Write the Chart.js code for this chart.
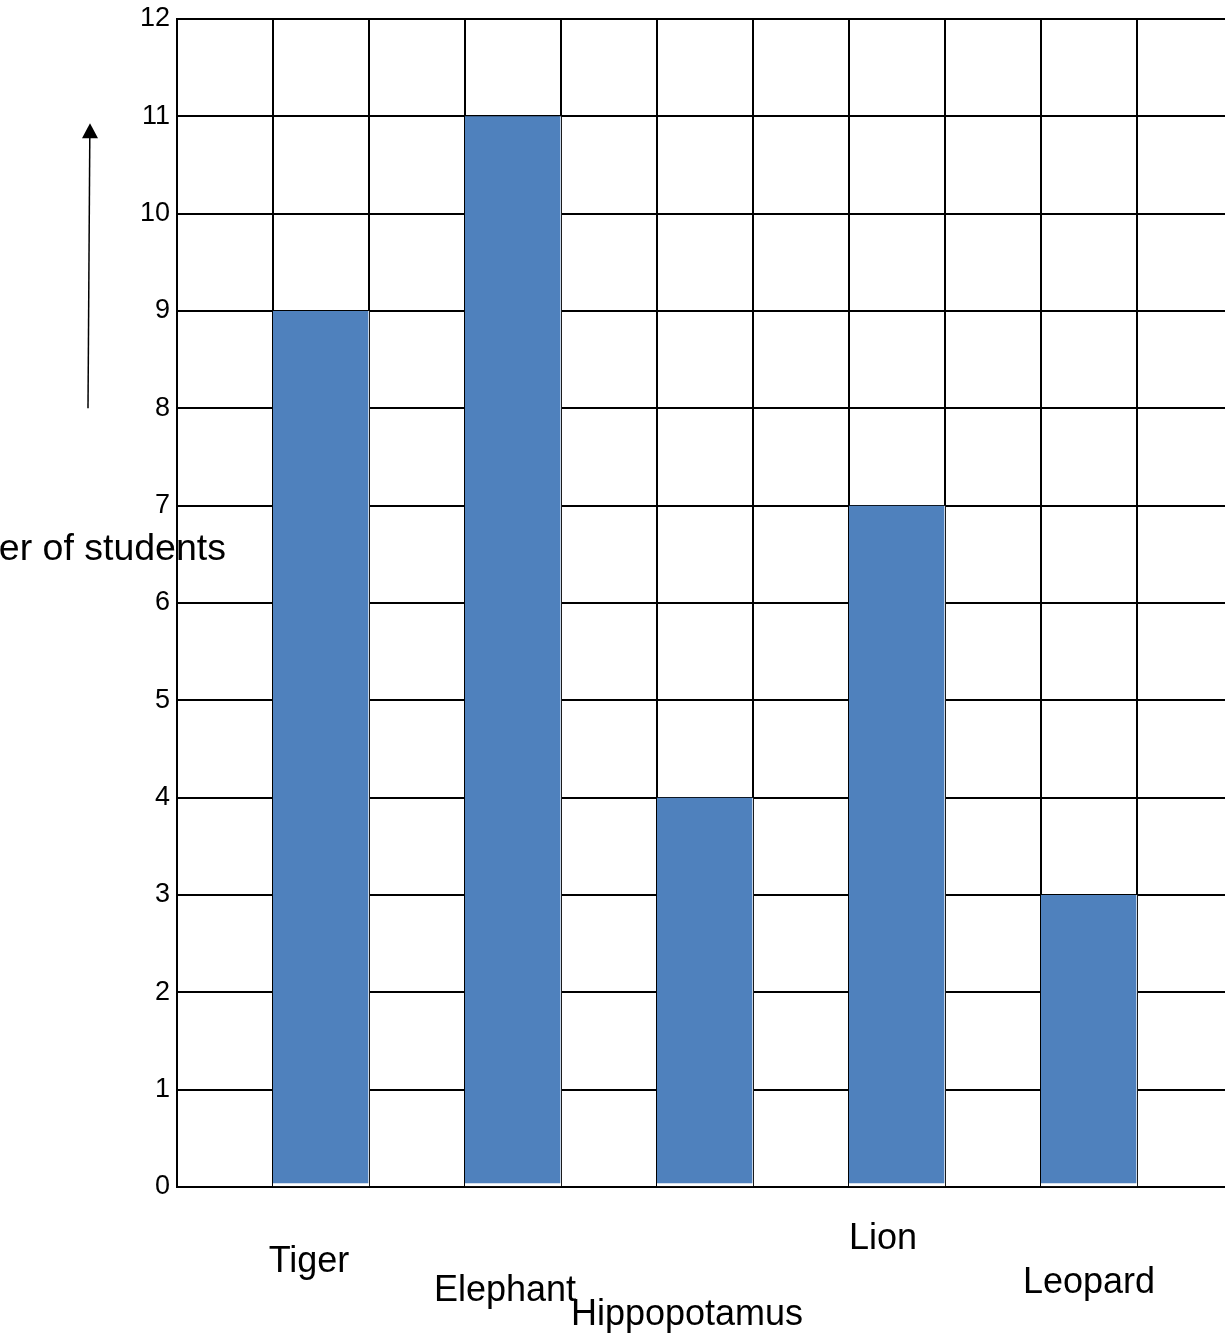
<!DOCTYPE html>
<html>
<head>
<meta charset="utf-8">
<script src="https://cdn.jsdelivr.net/npm/chart.js@4.4.1/dist/chart.umd.min.js"></script>
<style>
  html, body { margin: 0; padding: 0; background: #fff; overflow: hidden; }
  #wrap { width: 1234px; height: 1338px; }
</style>
</head>
<body>
<div id="wrap"><canvas id="myChart" width="1234" height="1338"></canvas></div>
<script>
// data
var animals = ['Tiger', 'Elephant', 'Hippopotamus', 'Lion', 'Leopard'];
var students = [9, 11, 4, 7, 3];
var yTicks = [0, 1, 2, 3, 4, 5, 6, 7, 8, 9, 10, 11, 12];

// every animal sits in every second column, with empty columns between
var slotLabels = [''];
var slotValues = [null];
animals.forEach(function(a, i) {
  slotLabels.push(a, '');
  slotValues.push(students[i], null);
});

// staggered label placement under the axis: [dx from column centre, baseline below axis]
var labelShift = [[-12, 85], [-8, 114], [-18, 138], [-14, 62], [0, 106]];

var FONT = '"Liberation Sans", Arial, sans-serif';

var annotate = {
  id: 'annotate',
  afterDraw: function(chart) {
    var ctx = chart.ctx, area = chart.chartArea;
    var x = chart.scales.x, y = chart.scales.y;
    ctx.save();
    ctx.fillStyle = '#000';
    ctx.font = '36px ' + FONT;
    ctx.textAlign = 'center';
    ctx.textBaseline = 'alphabetic';
    animals.forEach(function(a, i) {
      ctx.fillText(a, x.getPixelForValue(2 * i + 1) + labelShift[i][0], area.bottom + labelShift[i][1]);
    });

    // horizontal axis title, runs off the left edge
    ctx.font = '37.5px ' + FONT;
    ctx.textAlign = 'right';
    ctx.textBaseline = 'middle';
    ctx.fillText('Number of students', area.left + 49, y.getPixelForValue(6.55));

    // arrow pointing up
    var x0 = area.left - 89, y0 = y.getPixelForValue(8);
    var x1 = area.left - 87, y1 = y.getPixelForValue(10.93);
    ctx.strokeStyle = '#000';
    ctx.lineWidth = 1.5;
    ctx.beginPath();
    ctx.moveTo(x0, y0);
    ctx.lineTo(x1 - 0.2, y1 + 14);
    ctx.stroke();
    ctx.beginPath();
    ctx.moveTo(x1, y1);
    ctx.lineTo(x1 - 8, y1 + 15);
    ctx.lineTo(x1 + 8, y1 + 15);
    ctx.closePath();
    ctx.fill();
    ctx.restore();
  }
};

var ctx = document.getElementById('myChart').getContext('2d');
new Chart(ctx, {
  type: 'bar',
  data: {
    labels: slotLabels,
    datasets: [{
      data: slotValues,
      backgroundColor: '#4F81BD',
      borderColor: '#fff',
      borderWidth: { top: 0, right: 1, bottom: 3, left: 0 },
      borderSkipped: false,
      barPercentage: 1,
      categoryPercentage: 1
    }]
  },
  options: {
    responsive: false,
    animation: false,
    devicePixelRatio: 1,
    layout: { padding: { top: 19, right: 1, left: 0, bottom: 0 } },
    plugins: {
      legend: { display: false },
      tooltip: { enabled: false }
    },
    scales: {
      x: {
        offset: true,
        grid: { offset: true, color: '#000', lineWidth: 2, drawTicks: false },
        border: { color: '#000', width: 2 },
        ticks: { display: false },
        afterFit: function(scale) { scale.height = 151; }
      },
      y: {
        min: 0,
        max: 12,
        afterBuildTicks: function(scale) {
          scale.ticks = yTicks.map(function(v) { return { value: v }; });
        },
        grid: { color: '#000', lineWidth: 2, drawTicks: false },
        border: { color: '#000', width: 2 },
        ticks: {
          color: '#000',
          padding: 7,
          font: { family: FONT, size: 27 }
        },
        afterFit: function(scale) {
          scale.width = 177;
          scale.paddingTop = 0;
          scale.paddingBottom = 0;
        }
      }
    }
  },
  plugins: [annotate]
});
</script>
</body>
</html>
